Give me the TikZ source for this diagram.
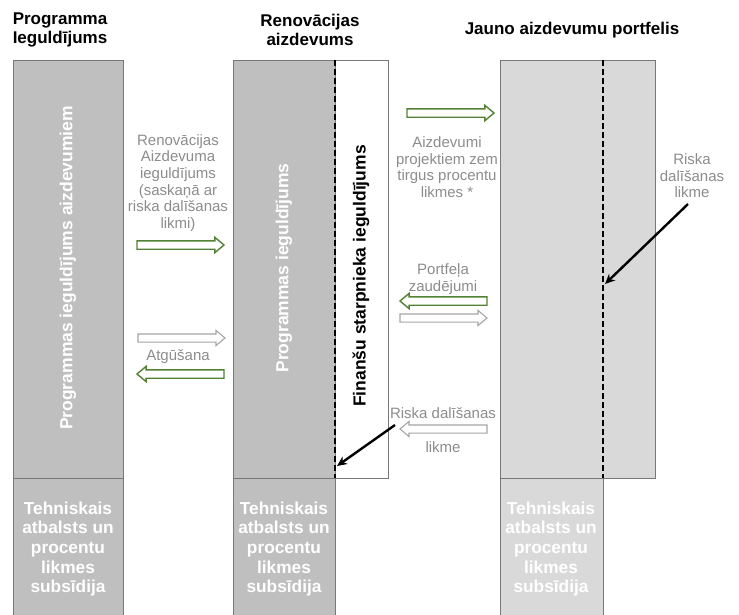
\documentclass[tikz,border=0pt]{standalone}
\usepackage{fontspec}
\setmainfont{Liberation Sans}
\usetikzlibrary{shapes.arrows,arrows.meta}
\definecolor{gdark}{RGB}{191,191,191}
\definecolor{glight}{RGB}{217,217,217}
\definecolor{edge}{RGB}{120,120,120}
\definecolor{lbl}{RGB}{140,140,140}
\definecolor{grn}{RGB}{84,130,53}
\definecolor{hollowgray}{RGB}{165,165,165}
\begin{document}
\begin{tikzpicture}[x=1pt,y=-1pt,
  colbox/.style={draw=edge, line width=0.8pt, anchor=north west, inner sep=0pt, outer sep=0pt},
  hdr/.style={font=\fontsize{17}{19.5}\selectfont\bfseries, align=center, text=black, inner sep=0pt},
  vtext/.style={rotate=90, font=\fontsize{17.5}{20}\selectfont\bfseries, inner sep=0pt},
  lbltext/.style={font=\fontsize{15}{16.6}\selectfont, text=lbl, align=center, inner sep=0pt},
  subtext/.style={font=\fontsize{17.3}{19.6}\selectfont\bfseries, text=white, align=center, inner sep=0pt},
  harrow/.style={single arrow, draw, fill=white, minimum height=87pt, minimum width=0pt, inner xsep=0pt, inner ysep=3.5pt, single arrow head extend=3.5pt, single arrow tip angle=80, outer sep=0pt, line width=1.4pt, anchor=tail},
  garrow/.style={harrow, draw=grn},
  warrow/.style={harrow, draw=hollowgray, line width=1.1pt},
  divline/.style={black, line width=2.2pt, dash pattern=on 6pt off 3pt},
  ptr/.style={black, line width=2.4pt, -{Stealth[length=10pt,width=9pt]}}
]
\useasboundingbox (0,0) rectangle (739,614);

% column 1
\node[colbox, fill=gdark, minimum width=110pt, minimum height=418pt] (c1top) at (13,60) {};
\node[colbox, fill=gdark, minimum width=110pt, minimum height=140pt] (c1bot) at (13,478) {};
% column 2
\node[colbox, fill=gdark, minimum width=102pt, minimum height=418pt] (c2top) at (233,60) {};
\node[colbox, fill=white, minimum width=53pt, minimum height=418pt] (c2white) at (335,60) {};
\node[colbox, fill=gdark, minimum width=102pt, minimum height=140pt] (c2bot) at (233,478) {};
% column 3
\node[colbox, fill=glight, minimum width=155pt, minimum height=418pt] (c3top) at (500,60) {};
\node[colbox, fill=glight, minimum width=103pt, minimum height=140pt] (c3bot) at (500,478) {};

% dashed dividers
\coordinate (d2t) at (335,60);
\coordinate (d2b) at (335,478);
\coordinate (d3t) at (603,60);
\coordinate (d3b) at (603,478);
\draw[divline] (d2t) -- (d2b);
\draw[divline] (d3t) -- (d3b);

% headers
\node[hdr] (h1) at (60,30) {Programma\\Ieguldījums};
\node[hdr] (h2) at (310,30) {Renovācijas\\aizdevums};
\node[hdr] (h3) at (572,30) {Jauno aizdevumu portfelis};

% vertical texts
\node[vtext, text=white] (v1) at (68,268) {Programmas ieguldījums aizdevumiem};
\node[vtext, text=white] (v2) at (284,268) {Programmas ieguldījums};
\node[vtext, text=black] (v3) at (361,276) {Finanšu starpnieka ieguldījums};

% lower texts
\node[subtext] (s1) at (68,549) {Tehniskais\\atbalsts un\\procentu\\likmes\\subsīdija};
\node[subtext] (s2) at (284,549) {Tehniskais\\atbalsts un\\procentu\\likmes\\subsīdija};
\node[subtext] (s3) at (551,549) {Tehniskais\\atbalsts un\\procentu\\likmes\\subsīdija};

% labels
\node[lbltext] (l1) at (178,183) {Renovācijas\\Aizdevuma\\ieguldījums\\(saskaņā ar\\riska dalīšanas\\likmi)};
\node[lbltext] (l2) at (178,357) {Atgūšana};
\node[lbltext] (l3) at (447,167) {Aizdevumi\\projektiem zem\\tirgus procentu\\likmes *};
\node[lbltext] (l4) at (443,279) {Portfeļa\\zaudējumi};
\node[lbltext] (l5) at (443,413) {Riska dalīšanas};
\node[lbltext] (l6) at (443,447) {likme};
\node[lbltext] (l7) at (692,176) {Riska\\dalīšanas\\likme};

% hollow arrows
\node[garrow] (a1) at (137,245) {};
\node[warrow] (a2) at (138,338) {};
\node[garrow, shape border rotate=180] (a3) at (224,374) {};
\node[garrow] (a4) at (407,113) {};
\node[garrow, shape border rotate=180] (a5) at (487,301) {};
\node[warrow] (a6) at (400,318) {};
\node[warrow, shape border rotate=180] (a7) at (487,429) {};

% pointer arrows
\coordinate (p1s) at (395,425);
\coordinate (p1e) at (337,466);
\coordinate (p2s) at (688,204);
\coordinate (p2e) at (605,284);
\draw[ptr] (p1s) -- (p1e);
\draw[ptr] (p2s) -- (p2e);
\end{tikzpicture}
\end{document}
